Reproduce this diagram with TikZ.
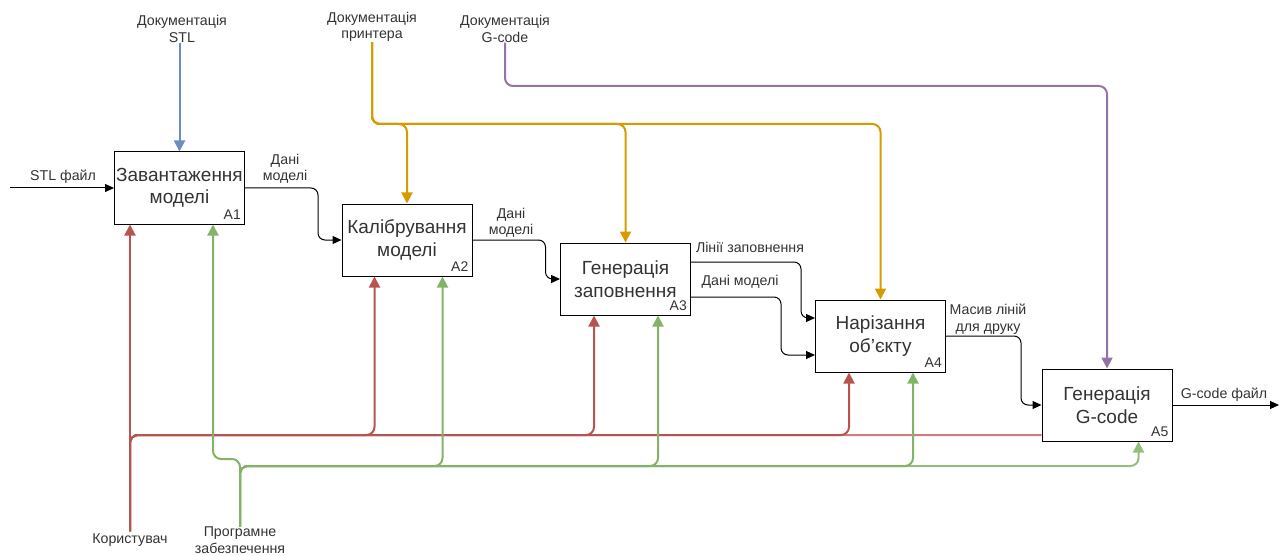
\documentclass[tikz,border=0pt]{standalone}
\usepackage{fontspec}
\setmainfont{Liberation Sans}
\usetikzlibrary{arrows.meta,calc}
\definecolor{ctrlblue}{HTML}{6C8EBF}
\definecolor{ctrlorange}{HTML}{D79B00}
\definecolor{ctrlpurple}{HTML}{9673A6}
\definecolor{mechred}{HTML}{B85450}
\definecolor{mechgreen}{HTML}{82B366}
\definecolor{txt}{HTML}{333333}
\begin{document}
\begin{tikzpicture}[x=1pt,y=-1pt,
  func/.style={draw,line width=1pt,minimum width=130pt,minimum height=72pt,inner sep=0pt,
    align=center,font=\fontsize{19}{22.5}\selectfont,text=txt},
  lbl/.style={font=\fontsize{14.2}{16.5}\selectfont,text=txt,align=center,inner sep=0pt},
  tag/.style={font=\fontsize{14}{16}\selectfont,text=txt,inner sep=0pt,anchor=south east},
  flow/.style={line width=1pt,rounded corners=7pt,-{Triangle[length=9pt,width=8pt]}},
  ctrl/.style={line width=2pt,rounded corners=8pt,-{Triangle[length=11pt,width=11pt]}},
  plain/.style={line width=2pt,rounded corners=8pt}]
\useasboundingbox (0,0) rectangle (1284,556);

% function blocks
\node[func] (A1) at (179.5,188) {Завантаження\\моделі};
\node[func] (A2) at (407,240) {Калібрування\\моделі};
\node[func] (A3) at (625.5,279) {Генерація\\заповнення};
\node[func] (A4) at (880.5,336) {Нарізання\\об'єкту};
\node[func] (A5) at (1107,405) {Генерація\\G-code};
\node[tag] (A1t) at ($(A1.south east)+(-4,-5)$) {A1};
\node[tag] (A2t) at ($(A2.south east)+(-4,-5)$) {A2};
\node[tag] (A3t) at ($(A3.south east)+(-4,-5)$) {A3};
\node[tag] (A4t) at ($(A4.south east)+(-4,-5)$) {A4};
\node[tag] (A5t) at ($(A5.south east)+(-4,-5)$) {A5};

% controls and mechanisms
\node[lbl] (stl) at (182,29) {Документація\\STL};
\node[lbl] (printer) at (372,27) {Документація\\принтера};
\node[lbl] (gdoc) at (505,29) {Документація\\G-code};
\node[lbl,inner sep=2pt] (user) at (130,540) {Користувач};
\node[lbl] (soft) at (240,540) {Програмне\\забезпечення};

% arrow labels
\node[lbl] (l1) at (63,177) {STL файл};
\node[lbl] (l2) at (285,169) {Дані\\моделі};
\node[lbl] (l3) at (511,223) {Дані\\моделі};
\node[lbl] (l4) at (750,247) {Лінії заповнення};
\node[lbl] (l5) at (740,282) {Дані моделі};
\node[lbl] (l6) at (988,319) {Масив ліній\\для друку};
\node[lbl] (l7) at (1224,395) {G-code файл};

\coordinate (in) at (10,188);
\coordinate (out) at (1279,405);
\coordinate (obus) at (0,124);
\coordinate (pbus) at (0,86);
\coordinate (rbus) at (0,435);
\coordinate (gbus) at (0,466);
\coordinate (gjog) at (0,459);
\coordinate (A1r) at ($(A1.south west)+(16,0)$);
\coordinate (A1g) at ($(A1.south west)+(99,0)$);
\coordinate (A2r) at ($(A2.south west)+(33,0)$);
\coordinate (A2g) at ($(A2.south west)+(101,0)$);
\coordinate (A3r) at ($(A3.south west)+(34,0)$);
\coordinate (A3g) at ($(A3.south west)+(98,0)$);
\coordinate (A4r) at ($(A4.south west)+(34,0)$);
\coordinate (A4g) at ($(A4.south west)+(98,0)$);
\coordinate (A5g) at ($(A5.south west)+(97,0)$);

% data flows
\draw[flow] (in) -- (A1.west);
\draw[flow] (A1.east) -- ++(73,0) |- (A2.west);
\draw[flow] (A2.east) -- ++(73,0) |- (A3.west);
\draw[flow] ($(A3.east)+(0,-17)$) -- ++(110,0) |- ($(A4.west)+(0,-18)$);
\draw[flow] ($(A3.east)+(0,18)$) -- ++(90,0) |- ($(A4.west)+(0,19)$);
\draw[flow] (A4.east) -- ++(75,0) |- (A5.west);
\draw[flow] (A5.east) -- (out);

% control arrows
\draw[ctrl,ctrlblue] (A1.north |- stl.south) -- (A1.north);
\draw[ctrl,ctrlorange] (printer.south) |- (A4.north |- obus) -- (A4.north);
\draw[ctrl,ctrlorange] (printer.south) |- (A3.north |- obus) -- (A3.north);
\draw[ctrl,ctrlorange] (printer.south) |- (A2.north |- obus) -- (A2.north);
\draw[ctrl,ctrlpurple] (gdoc.south) |- (A5.north |- pbus) -- (A5.north);

% mechanism arrows
\draw[plain,mechred!75] (A1r |- user.north) |- (A5.west |- rbus);
\draw[ctrl,mechred] (A1r |- user.north) |- (A4r |- rbus) -- (A4r);
\draw[ctrl,mechred] (A1r |- user.north) |- (A3r |- rbus) -- (A3r);
\draw[ctrl,mechred] (A1r |- user.north) |- (A2r |- rbus) -- (A2r);
\draw[ctrl,mechred] (A1r |- user.north) -- (A1r);

\draw[ctrl,mechgreen!85] (soft.north) |- (A5g |- gbus) -- (A5g);
\draw[ctrl,mechgreen] (soft.north) |- (A4g |- gbus) -- (A4g);
\draw[ctrl,mechgreen] (soft.north) |- (A3g |- gbus) -- (A3g);
\draw[ctrl,mechgreen] (soft.north) |- (A2g |- gbus) -- (A2g);
\draw[ctrl,mechgreen] (soft.north) |- (A1g |- gjog) -- (A1g);
\end{tikzpicture}
\end{document}
